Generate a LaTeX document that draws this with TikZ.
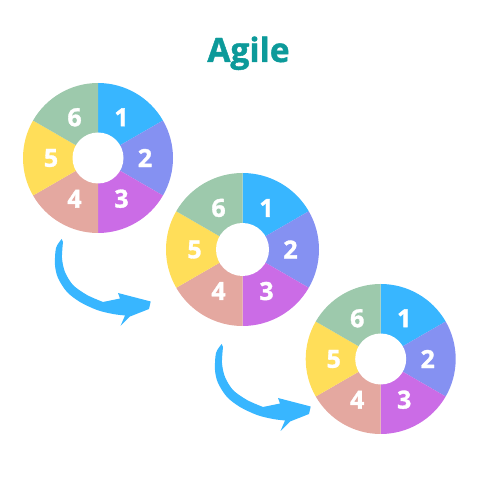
\documentclass[tikz,border=0pt]{standalone}
\usepackage{fontspec}
\setmainfont{Open Sans}[BoldFeatures={FakeBold=1.3}]
\definecolor{agileteal}{HTML}{0C9A9A}
\definecolor{segone}{HTML}{38B6FF}
\definecolor{segtwo}{HTML}{8591F2}
\definecolor{segthree}{HTML}{CB6CE6}
\definecolor{segfour}{HTML}{E4A8A0}
\definecolor{segfive}{HTML}{FFDE59}
\definecolor{segsix}{HTML}{9DC9AC}
\definecolor{arrowblue}{HTML}{38B6FF}
\begin{document}
\begin{tikzpicture}[x=1pt,y=1pt,
		num/.style={text=white,inner sep=0pt,font=\bfseries\fontsize{25}{25}\selectfont},
		heading/.style={text=agileteal,inner sep=0pt,anchor=base,font=\bfseries\fontsize{33.5}{33.5}\selectfont}]
	\useasboundingbox (0,0) rectangle (500,500);
	\node[heading](agile) at (248.5,438){Agile};
	\foreach \w/\cx/\cy/\r/\h/\l in {wa/98/342/75/25.5/47, wb/242.5/250.5/76.5/26.5/48, wc/380.7/141/75/25.5/47}{
		\coordinate(\w) at (\cx,\cy);
		\foreach \s/\c/\n in {90/segone/1, 30/segtwo/2, -30/segthree/3, -90/segfour/4, -150/segfive/5, 150/segsix/6}{
			\fill[\c](\w) -- ([shift={(\s:\r)}]\w) arc[start angle=\s, end angle=\s-60, radius=\r] -- cycle;
			\node[num](\w\n) at ([shift={(\s-30:\l)}]\w){\n};
		}
		\fill[white](\w) circle (\h);
	}
	\foreach \k/\ax/\ay in {1/61.7/261, 2/221.7/156}{
		\coordinate(arrow\k) at (\ax,\ay);
		\fill[arrowblue,shift={(arrow\k)}] plot[smooth] coordinates {(0,0) (-5.7,-9) (-6.7,-26) (-3.7,-39) (5.3,-53) (18.3,-63) (35.3,-71) (51.3,-75) (63.3,-76.5)}
			-- (58.8,-87) -- (68.3,-77.5) -- (87.3,-70) -- (89,-62.5) -- (56.3,-54) -- (58.3,-59.5)
			-- plot[smooth] coordinates {(41.3,-63) (25.3,-56) (11.3,-46) (3.3,-33) (0.3,-19) (1.3,-3)} -- cycle;
	}
\end{tikzpicture}
\end{document}
